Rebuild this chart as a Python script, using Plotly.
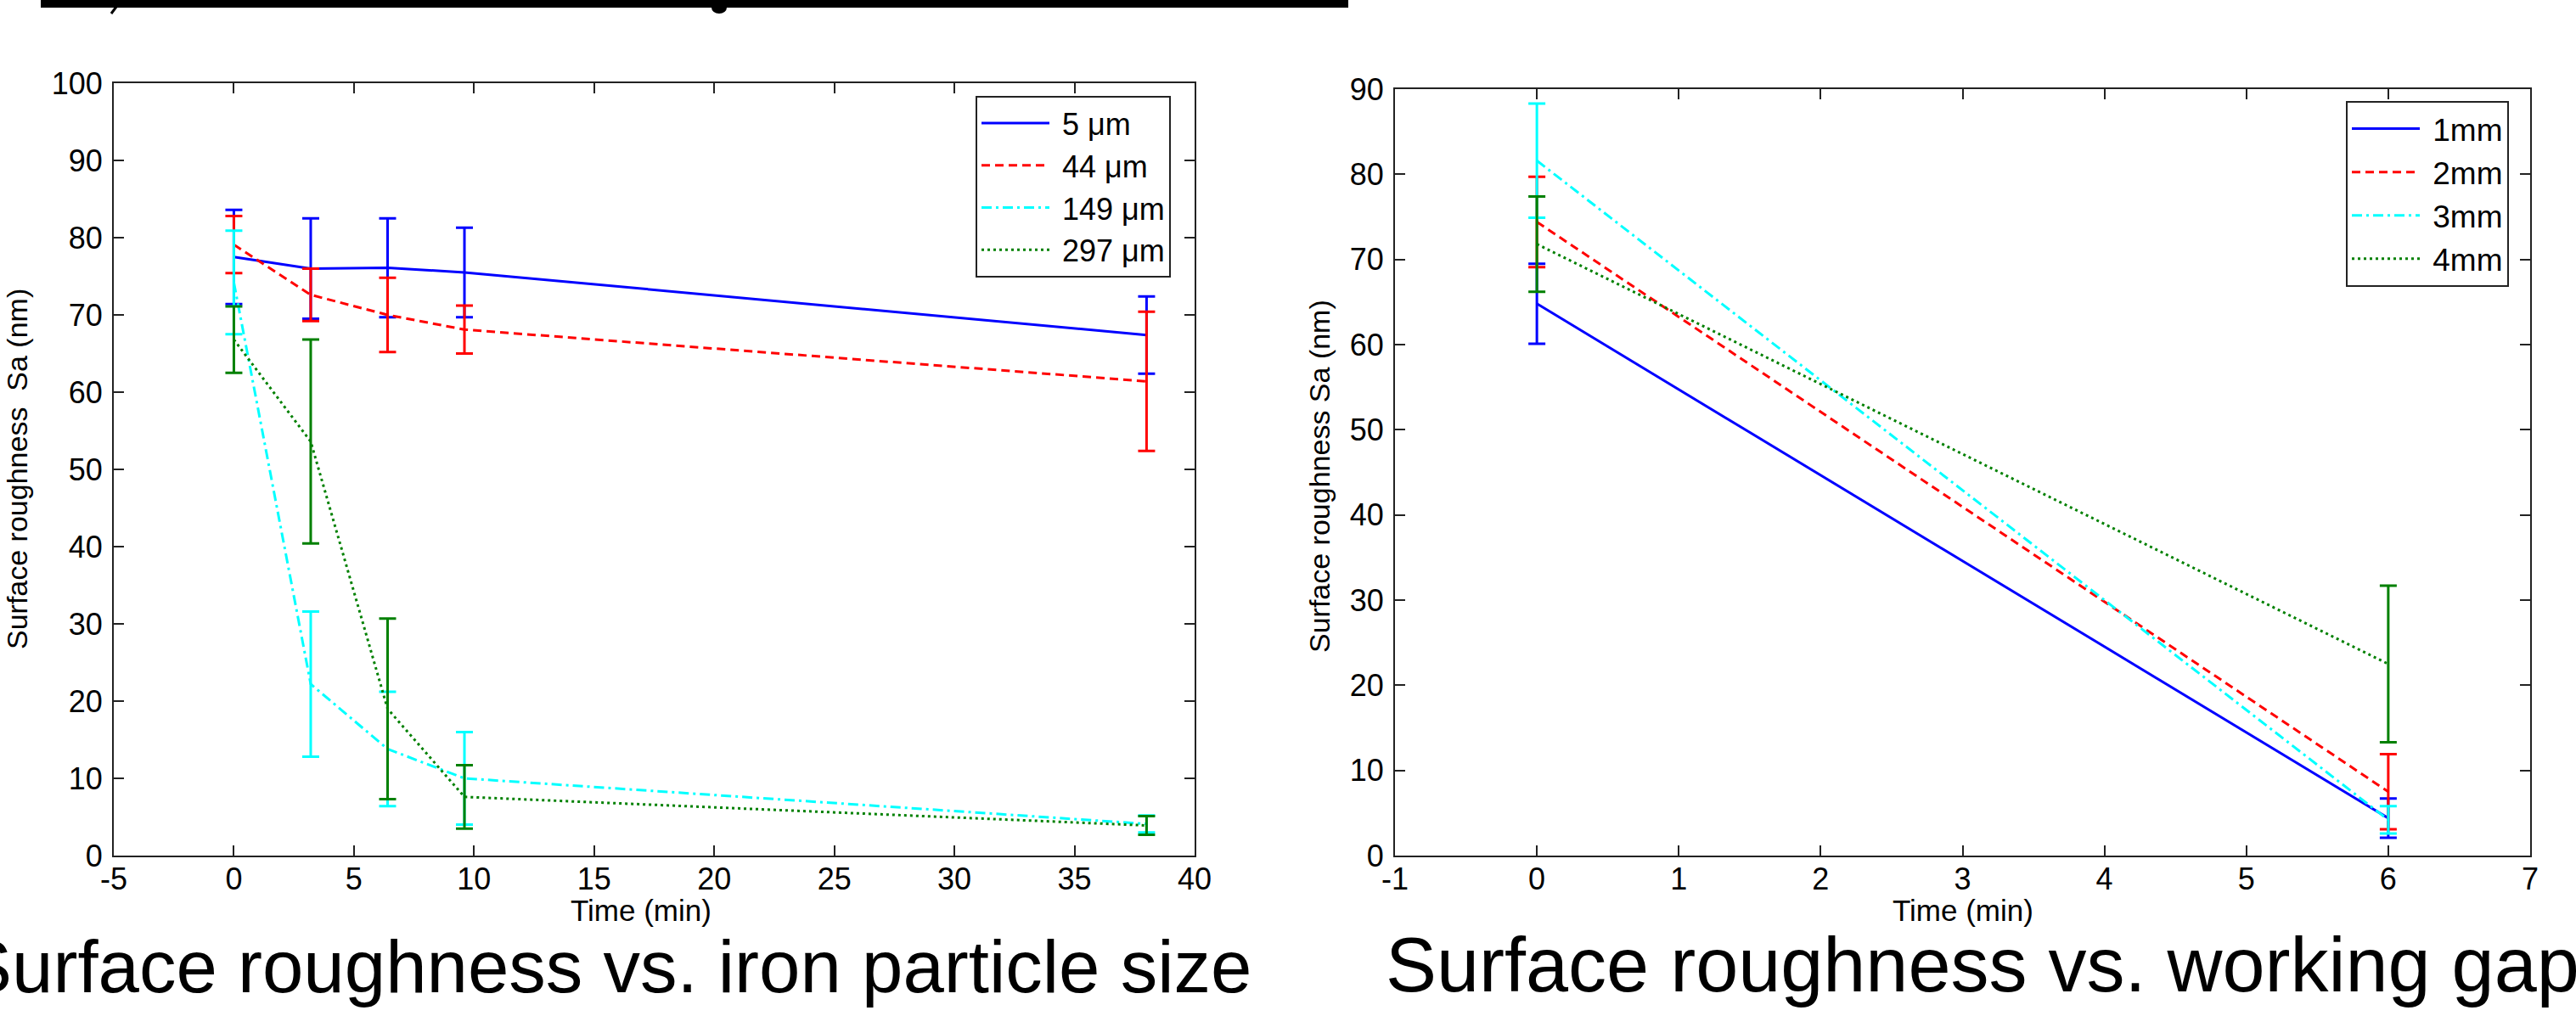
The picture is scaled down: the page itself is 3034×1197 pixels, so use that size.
import plotly.graph_objects as go

W, H = 3034, 1197

# ---------------- data: left panel (iron particle size) ----------------
time_left = [0, 3.2, 6.4, 9.6, 38]
sa_5um = [77.5, 76.0, 76.1, 75.5, 67.4]
err_5um = [6.1, 6.5, 6.4, 5.8, 5.0]
sa_44um = [79.1, 72.6, 70.0, 68.1, 61.4]
err_44um = [3.7, 3.4, 4.8, 3.1, 9.0]
sa_149um = [74.2, 22.2, 13.8, 10.0, 4.1]
err_149um = [6.7, 9.4, 7.4, 6.0, 1.1]
sa_297um = [66.8, 53.6, 19.0, 7.6, 3.9]
err_297um = [4.3, 13.2, 11.7, 4.1, 1.2]
labels_left = ["5 μm", "44 μm", "149 μm", "297 μm"]
xticks_left = list(range(-5, 41, 5))
yticks_left = list(range(0, 101, 10))

# ---------------- data: right panel (working gap) ----------------
time_right = [0, 6]
sa_1mm = [64.8, 4.4]
err_1mm = [4.7, 2.3]
sa_2mm = [74.4, 7.5]
err_2mm = [5.3, 4.4]
sa_3mm = [81.6, 4.2]
err_3mm = [6.7, 1.6]
sa_4mm = [71.8, 22.5]
err_4mm = [5.6, 9.2]
labels_right = ["1mm", "2mm", "3mm", "4mm"]
xticks_right = list(range(-1, 8))
yticks_right = list(range(0, 91, 10))

colors = ["#0000FF", "#FF0000", "#00FFFF", "#008000"]
dashes = ["solid", "10px,6px", "12px,5px,3px,5px", "3px,4px"]

FONT = "Liberation Sans, Arial, sans-serif"
NBSP = "\u00a0"

fig = go.Figure()

left_series = [(sa_5um, err_5um), (sa_44um, err_44um), (sa_149um, err_149um), (sa_297um, err_297um)]
for i, ((ys, es), name) in enumerate(zip(left_series, labels_left)):
    fig.add_trace(go.Scatter(
        x=time_left, y=ys, name=NBSP + name, mode="lines",
        line=dict(color=colors[i], width=3, dash=dashes[i]),
        error_y=dict(type="data", array=es, visible=True, color=colors[i], thickness=3, width=10),
        xaxis="x", yaxis="y", legend="legend", legendgroup="L%d" % i,
    ))

right_series = [(sa_1mm, err_1mm), (sa_2mm, err_2mm), (sa_3mm, err_3mm), (sa_4mm, err_4mm)]
for i, ((ys, es), name) in enumerate(zip(right_series, labels_right)):
    fig.add_trace(go.Scatter(
        x=time_right, y=ys, name=NBSP + name, mode="lines",
        line=dict(color=colors[i], width=3, dash=dashes[i]),
        error_y=dict(type="data", array=es, visible=True, color=colors[i], thickness=3, width=10),
        xaxis="x2", yaxis="y2", legend="legend2", legendgroup="R%d" % i,
    ))

def px_x(v):
    return v / W

def px_y(v):
    return 1 - v / H

axis_common = dict(
    showgrid=False, zeroline=False, showline=True, linecolor="#222222", linewidth=2,
    mirror="ticks", ticks="inside", ticklen=12, tickwidth=2, tickcolor="#222222",
    tickfont=dict(family=FONT, size=36, color="black"), automargin=False,
    tickmode="array",
)

fig.update_layout(
    template="none",
    width=W, height=H,
    margin=dict(l=0, r=0, t=0, b=0, pad=0, autoexpand=False),
    paper_bgcolor="white", plot_bgcolor="white",
    xaxis=dict(domain=[px_x(134), px_x(1407)], range=[-5, 40], tickvals=xticks_left,
               ticktext=[str(v) for v in xticks_left],
               anchor="y", ticklabelstandoff=-5, **axis_common),
    yaxis=dict(domain=[px_y(1008), px_y(98)], range=[0, 100], tickvals=yticks_left,
               ticktext=[str(v) for v in yticks_left],
               anchor="x", ticklabelstandoff=4, **axis_common),
    xaxis2=dict(domain=[px_x(1643), px_x(2980)], range=[-1, 7], tickvals=xticks_right,
                ticktext=[str(v) for v in xticks_right],
                anchor="y2", ticklabelstandoff=-5, **axis_common),
    yaxis2=dict(domain=[px_y(1008), px_y(105)], range=[0, 90], tickvals=yticks_right,
                ticktext=[str(v) for v in yticks_right],
                anchor="x2", ticklabelstandoff=4, **axis_common),
    legend=dict(x=px_x(1149), y=px_y(113), xanchor="left", yanchor="top",
                bgcolor="white", bordercolor="#222222", borderwidth=2,
                font=dict(family=FONT, size=36, color="black"),
                tracegroupgap=0, itemwidth=80),
    legend2=dict(x=px_x(2763), y=px_y(119), xanchor="left", yanchor="top",
                 bgcolor="white", bordercolor="#222222", borderwidth=2,
                 font=dict(family=FONT, size=37, color="black"),
                 tracegroupgap=0, itemwidth=80),
    showlegend=True,
)

annotations = [
    dict(text="Surface roughness\u00a0 Sa (nm)", x=px_x(20), y=px_y(553), textangle=-90,
         font=dict(family=FONT, size=34, color="black")),
    dict(text="Time (min)", x=px_x(755), y=px_y(1072),
         font=dict(family=FONT, size=35, color="black")),
    dict(text="Surface roughness Sa (nm)", x=px_x(1554), y=px_y(561), textangle=-90,
         font=dict(family=FONT, size=34, color="black")),
    dict(text="Time (min)", x=px_x(2312), y=px_y(1072),
         font=dict(family=FONT, size=35, color="black")),
    dict(text="Surface roughness vs. iron particle size", x=px_x(1476), y=px_y(1138),
         xanchor="right", font=dict(family=FONT, size=87, color="black")),
    dict(text="Surface roughness vs. working gap", x=px_x(1630), y=px_y(1137),
         xanchor="left", font=dict(family=FONT, size=90, color="black")),
]
for a in annotations:
    a.update(xref="paper", yref="paper", showarrow=False)
    a.setdefault("xanchor", "center")
    a.setdefault("yanchor", "middle")
fig.update_layout(annotations=annotations)

fig.update_layout(shapes=[
    dict(type="rect", xref="paper", yref="paper", x0=px_x(48), x1=px_x(1588), y0=px_y(9), y1=px_y(0),
         fillcolor="black", line=dict(width=0)),
    dict(type="line", xref="paper", yref="paper", x0=px_x(131), x1=px_x(137), y0=px_y(16), y1=px_y(8),
         line=dict(color="black", width=3)),
    dict(type="circle", xref="paper", yref="paper", x0=px_x(838), x1=px_x(856), y0=px_y(16), y1=px_y(2),
         fillcolor="black", line=dict(width=0)),
])

fig.write_html("out.html")
